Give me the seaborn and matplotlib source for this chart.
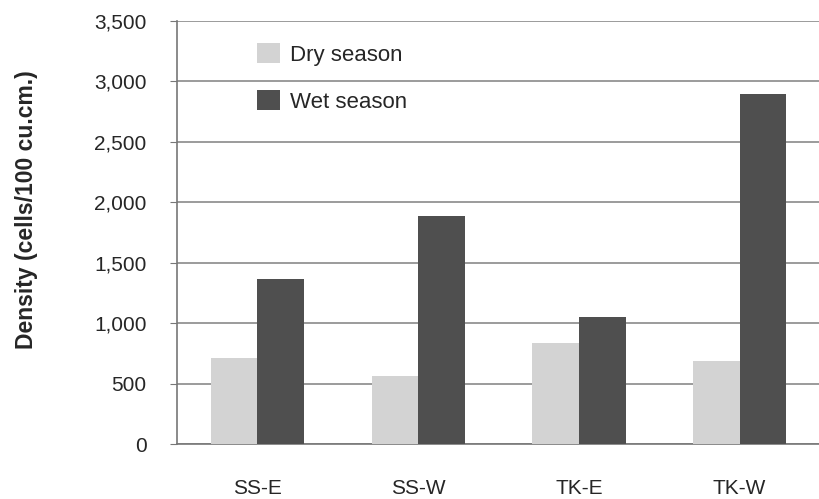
import pandas as pd
import matplotlib.pyplot as plt
import seaborn as sns

sites = ["SS-E", "SS-W", "TK-E", "TK-W"]
dry_season = [710, 560, 835, 685]
wet_season = [1365, 1885, 1050, 2895]
seasons = ["Dry season", "Wet season"]
colors = ["#d3d3d3", "#4f4f4f"]


def main():
    df = pd.DataFrame({
        "site": sites * 2,
        "season": [seasons[0]] * len(sites) + [seasons[1]] * len(sites),
        "density": dry_season + wet_season,
    })

    sns.set_style("white")
    plt.rcParams["font.family"] = ["Liberation Sans", "DejaVu Sans"]

    fig = plt.figure(figsize=(8.2, 4.99), dpi=100)
    ax = fig.add_axes([0.216, 0.110, 0.784, 0.848])

    sns.barplot(data=df, x="site", y="density", hue="season", order=sites,
                hue_order=seasons, palette=colors, width=0.58, gap=0,
                saturation=1, edgecolor="none", ax=ax, zorder=3)

    ax.set_ylim(0, 3500)
    ax.set_xlim(-0.5, 3.43)
    ax.set_yticks(range(0, 3501, 500))
    ax.set_yticklabels([f"{v:,}" for v in range(0, 3501, 500)], fontsize=15)
    ax.yaxis.grid(True, color="#8a8a8a", linewidth=1.2, zorder=0)
    ax.set_axisbelow(True)

    ax.set_xticks(range(len(sites)))
    ax.set_xticklabels(sites, fontsize=15)
    ax.set_xticks([-0.5, 0.5, 1.5, 2.5, 3.5], minor=True)
    ax.tick_params(axis="x", which="major", length=0, pad=25)
    ax.tick_params(axis="x", which="minor", length=6, color="#777777", direction="out")
    ax.tick_params(axis="y", length=5, color="#777777", direction="out", pad=17, left=True)

    for side in ["top", "right"]:
        ax.spines[side].set_visible(False)
    for side in ["left", "bottom"]:
        ax.spines[side].set_color("#777777")
        ax.spines[side].set_linewidth(1.2)

    ax.set_xlabel("")
    ax.set_ylabel("Density (cells/100 cu.cm.)", fontsize=16.5, fontweight="bold")
    ax.yaxis.set_label_coords(-0.217, 0.555)

    ax.legend(loc="upper left", bbox_to_anchor=(0.124, 0.948), frameon=False,
              fontsize=16, handlelength=1.05, handleheight=1.0, labelspacing=1.1,
              handletextpad=0.45, borderpad=0, borderaxespad=0)

    fig.savefig("out.png", dpi=100)


if __name__ == "__main__":
    main()
